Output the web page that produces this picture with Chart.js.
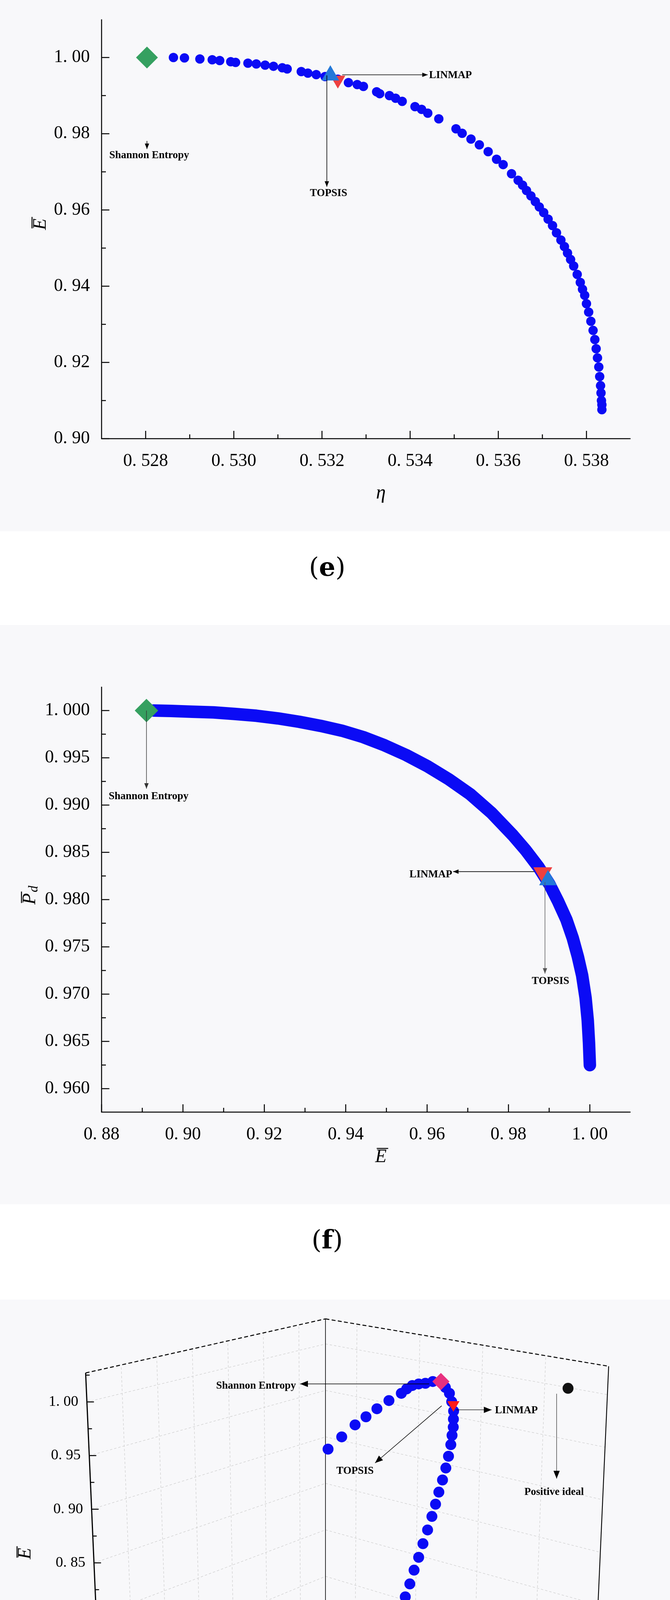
<!DOCTYPE html>
<html><head><meta charset="utf-8">
<script src="https://cdn.jsdelivr.net/npm/chart.js@4.4.1/dist/chart.umd.min.js"></script>
<style>
body{margin:0;background:#fff;width:1715px;height:4990px;position:relative;overflow:hidden;font-family:"Liberation Serif",serif}
.bg{position:absolute;left:0;width:1715px;background:#f8f8fa}
canvas{position:absolute;left:0}
.lab{position:absolute;width:1715px;left:0;text-align:center;font-size:66px;font-family:"DejaVu Serif","Liberation Serif",serif}
</style></head><body>
<div class="bg" style="top:0;height:1360px"></div>
<div class="bg" style="top:1600px;height:1483px"></div>
<div class="bg" style="top:3327px;height:1477px"></div>
<canvas id="c1" width="1715" height="1400" style="top:0"></canvas>
<canvas id="c2" width="1715" height="1700" style="top:1400px"></canvas>
<canvas id="c3" width="1715" height="1790" style="top:3200px"></canvas>
<div class="lab" style="top:1412px;left:-20px">(<b>e</b>)</div>
<div class="lab" style="top:3134px;left:-20px">(<b>f</b>)</div>
<div class="lab" style="top:4860px;left:-20px">(<b>g</b>)</div>
<script>
// ---------- panel (e): eta vs E ----------
const eEta=[0.52863,0.52888,0.52923,0.52951,0.52968,0.52993,0.53004,0.53032,0.53051,0.53071,0.53090,0.53110,0.53121,0.53153,0.53168,0.53187,0.53207,0.53236,0.53260,0.53280,0.53294,0.53324,0.53331,0.53353,0.53367,0.53382,0.53411,0.53426,0.53440,0.53465,0.53504,0.53518,0.53538,0.53557,0.53577,0.53596,0.53611,0.53630,0.53645,0.53655,0.53664,0.53674,0.53684,0.53693,0.53703,0.53713,0.53723,0.53732,0.53742,0.53750,0.53757,0.53764,0.53771,0.53779,0.53786,0.53791,0.53796,0.53800,0.53805,0.53810,0.53815,0.53819,0.53822,0.53825,0.53828,0.53830,0.53832,0.53833,0.53834,0.53835,0.53835];
const eE=[1.0000,0.9999,0.9996,0.9994,0.9992,0.9989,0.9987,0.9985,0.9983,0.9980,0.9977,0.9973,0.9970,0.9963,0.9959,0.9955,0.9950,0.9943,0.9934,0.9929,0.9924,0.9910,0.9905,0.9900,0.9893,0.9885,0.9871,0.9864,0.9854,0.9839,0.9813,0.9801,0.9786,0.9771,0.9753,0.9733,0.9719,0.9695,0.9678,0.9665,0.9651,0.9637,0.9622,0.9608,0.9593,0.9576,0.9559,0.9540,0.9521,0.9504,0.9487,0.9470,0.9453,0.9431,0.9410,0.9392,0.9376,0.9354,0.9332,0.9308,0.9284,0.9260,0.9236,0.9212,0.9188,0.9163,0.9139,0.9120,0.9100,0.9089,0.9076];
const eShannon=[0.52803,1.0000], eLinmap=[0.53236,0.9941], eTopsis=[0.53219,0.9953];
const eXTicks=[0.528,0.530,0.532,0.534,0.536,0.538], eXMinor=[0.529,0.531,0.533,0.535,0.537];
const eYTicks=[0.90,0.92,0.94,0.96,0.98,1.00], eYMinor=[0.91,0.93,0.95,0.97,0.99];
// ---------- panel (f): E vs Pd ----------
const fE=[0.89282,0.89702,0.90228,0.90753,0.91278,0.91804,0.92329,0.92855,0.93380,0.93906,0.94431,0.94956,0.95482,0.96007,0.96533,0.97058,0.97583,0.98109,0.98424,0.98739,0.99002,0.99212,0.99422,0.99580,0.99706,0.99811,0.99895,0.99948,0.99979,1.00000];
const fPd=[1.00000,0.99996,0.99988,0.99980,0.99964,0.99945,0.99917,0.99881,0.99838,0.99787,0.99719,0.99632,0.99530,0.99411,0.99273,0.99115,0.98917,0.98680,0.98522,0.98344,0.98166,0.97988,0.97790,0.97593,0.97395,0.97197,0.96960,0.96723,0.96486,0.96249];
const fShannon=[0.89103,1.0000], fLinmap=[0.98844,0.98284], fTopsis=[0.98970,0.98205];
const fXTicks=[0.88,0.90,0.92,0.94,0.96,0.98,1.00], fXMinor=[0.89,0.91,0.93,0.95,0.97,0.99];
const fYTicks=[0.960,0.965,0.970,0.975,0.980,0.985,0.990,0.995,1.000], fYMinor=[0.9625,0.9675,0.9725,0.9775,0.9825,0.9875,0.9925,0.9975];
// ---------- panel (g): 3-D (P, eta, E) ----------
const gE=[0.702,0.709,0.716,0.723,0.731,0.740,0.749,0.760,0.771,0.781,0.792,0.803,0.815,0.826,0.838,0.850,0.862,0.873,0.884,0.895,0.906,0.917,0.928,0.937,0.945,0.953,0.961,0.971,0.980,0.987,0.994,0.996,0.996,0.997,0.997,0.995,0.992,0.988,0.983,0.978,0.973,0.965,0.957];
const gEta=[0.5190,0.5200,0.5211,0.5222,0.5232,0.5243,0.5253,0.5268,0.5284,0.5297,0.5309,0.5322,0.5334,0.5347,0.5359,0.5372,0.5384,0.5394,0.5403,0.5413,0.5422,0.5429,0.5435,0.5438,0.5441,0.5441,0.5441,0.5435,0.5428,0.5416,0.5403,0.5380,0.5359,0.5340,0.5322,0.5306,0.5291,0.5256,0.5222,0.5191,0.5160,0.5122,0.5083];
const gP=gE.map(()=>0.91);
const gShannon=[0.91,0.5403,0.994], gLinmap=[0.91,0.5440,0.9675];
const gPositive=[0.976,0.547,1.00], gNegative=[0.8325,0.486,0.78];
const gPTicks=[0.84,0.88,0.92,0.96,1.00], gEtaTicks=[0.48,0.49,0.50,0.51,0.52,0.53,0.54], gETicks=[0.70,0.75,0.80,0.85,0.90,0.95,1.00];
const gPRange=[0.82,1.00], gEtaRange=[0.48,0.5475], gERange=[0.70,1.027];

const SERIF='"Liberation Serif", serif';
const fmt=(v,d)=>v.toFixed(d).replace('.', '. ');
function arrow(ctx,x1,y1,x2,y2,opt={}){
  const c=opt.color||'#000',w=opt.width||1.6,h=opt.head||14;
  ctx.save();ctx.strokeStyle=c;ctx.fillStyle=c;ctx.lineWidth=w;
  ctx.beginPath();ctx.moveTo(x1,y1);ctx.lineTo(x2,y2);ctx.stroke();
  const a=Math.atan2(y2-y1,x2-x1);
  ctx.beginPath();ctx.moveTo(x2,y2);
  ctx.lineTo(x2-h*Math.cos(a)+h*0.4*Math.sin(a),y2-h*Math.sin(a)-h*0.4*Math.cos(a));
  ctx.lineTo(x2-h*Math.cos(a)-h*0.4*Math.sin(a),y2-h*Math.sin(a)+h*0.4*Math.cos(a));
  ctx.closePath();ctx.fill();ctx.restore();
}
function txt(ctx,s,x,y,align,font){ctx.save();ctx.fillStyle='#000';ctx.font=font||('bold 27px '+SERIF);ctx.textAlign=align||'left';ctx.textBaseline='middle';ctx.fillText(s,x,y);ctx.restore();}
function barTitle(ctx,x,y,main,sub,rot){
  ctx.save();ctx.translate(x,y);if(rot)ctx.rotate(-Math.PI/2);
  ctx.font='italic 48px '+SERIF;ctx.fillStyle='#000';ctx.textAlign='center';ctx.textBaseline='middle';
  const w=ctx.measureText(main).width;
  ctx.fillText(main,0,0);
  ctx.lineWidth=2.5;ctx.beginPath();ctx.moveTo(-w/2+4,-22);ctx.lineTo(w/2+4,-22);ctx.stroke();
  if(sub){ctx.font='italic 34px '+SERIF;ctx.textAlign='left';ctx.fillText(sub,w/2+2,10);}
  ctx.restore();
}
function ticksPlugin(xMaj,xMin,yMaj,yMin,extra){
  return {id:'tk',afterDraw(ch){
    const ctx=ch.ctx,xs=ch.scales.x,ys=ch.scales.y,a=ch.chartArea;
    ctx.save();ctx.strokeStyle='#000';ctx.lineWidth=2.5;
    ctx.beginPath();ctx.moveTo(a.left,a.top);ctx.lineTo(a.left,a.bottom);ctx.lineTo(a.right,a.bottom);ctx.stroke();
    const L=(v,l)=>{const p=xs.getPixelForValue(v);ctx.beginPath();ctx.moveTo(p,a.bottom);ctx.lineTo(p,a.bottom-l);ctx.stroke();};
    const M=(v,l)=>{const p=ys.getPixelForValue(v);ctx.beginPath();ctx.moveTo(a.left,p);ctx.lineTo(a.left+l,p);ctx.stroke();};
    xMaj.forEach(v=>L(v,20));xMin.forEach(v=>L(v,11));yMaj.forEach(v=>M(v,20));yMin.forEach(v=>M(v,11));
    ctx.restore();
    extra(ch,ctx,xs,ys);
  }};
}
function axesOpts(xr,yr,xT,yT,xd,yd,left,bottomH){
  return {
    x:{type:'linear',min:xr[0],max:xr[1],grid:{display:false},border:{display:false},
      afterBuildTicks:s=>{s.ticks=xT.map(v=>({value:v}));},afterFit:s=>{s.height=bottomH;},
      ticks:{padding:22,maxRotation:0,autoSkip:false,color:'#000',font:{family:SERIF,size:46},callback:v=>fmt(v,xd)}},
    y:{type:'linear',min:yr[0],max:yr[1],grid:{display:false},border:{display:false},
      afterBuildTicks:s=>{s.ticks=yT.map(v=>({value:v}));},afterFit:s=>{s.width=left;},
      ticks:{padding:22,autoSkip:false,color:'#000',font:{family:SERIF,size:46},callback:v=>fmt(v,yd)}}
  };
}
const base={responsive:false,animation:false,devicePixelRatio:1,plugins:{legend:{display:false},tooltip:{enabled:false}}};

// (e)
new Chart(document.getElementById('c1'),{type:'scatter',
  data:{datasets:[
    {order:10,data:eEta.map((v,i)=>({x:v,y:eE[i]})),backgroundColor:'#0b0bf5',borderWidth:0,pointRadius:12},
    {order:3,data:[{x:eShannon[0],y:eShannon[1]}],pointStyle:'rectRot',backgroundColor:'#35a060',borderWidth:0,pointRadius:28},
    {order:2,data:[{x:eLinmap[0],y:eLinmap[1]}],pointStyle:'triangle',rotation:180,backgroundColor:'#ee4040',borderWidth:0,pointRadius:22},
    {order:1,data:[{x:eTopsis[0],y:eTopsis[1]}],pointStyle:'triangle',backgroundColor:'#2378d8',borderWidth:0,pointRadius:26}]},
  options:{...base,layout:{padding:{left:0,top:34,right:101,bottom:0}},
    scales:axesOpts([0.527,0.539],[0.90,1.01],eXTicks,eYTicks,3,2,260,277)},
  plugins:[ticksPlugin(eXTicks,eXMinor,eYTicks,eYMinor,(ch,ctx,xs,ys)=>{
    const X=v=>xs.getPixelForValue(v),Y=v=>ys.getPixelForValue(v);
    arrow(ctx,X(0.53246),Y(0.99546),X(0.53440),Y(0.99546));
    txt(ctx,'LINMAP',X(0.53443),Y(0.99546)+2,'left');
    arrow(ctx,X(0.53211),Y(0.9953),X(0.53211),Y(0.9661));
    txt(ctx,'TOPSIS',X(0.53215),Y(0.9644),'center');
    arrow(ctx,X(0.52803),Y(0.9781),X(0.52803),Y(0.9760));
    txt(ctx,'Shannon Entropy',X(0.52808),Y(0.9743),'center');
    barTitle(ctx,104,574,'E',null,true);
    ctx.save();ctx.font='italic 50px '+SERIF;ctx.textAlign='center';ctx.textBaseline='middle';ctx.fillText('η',975,1263);ctx.restore();
  })]});

// (f)
new Chart(document.getElementById('c2'),{type:'scatter',
  data:{datasets:[
    {order:10,data:fE.map((v,i)=>({x:v,y:fPd[i]})),showLine:true,borderColor:'#0b0bf5',borderWidth:32,borderCapStyle:'round',borderJoinStyle:'round',backgroundColor:'#0b0bf5',pointRadius:0},
    {order:3,data:[{x:fShannon[0],y:fShannon[1]}],pointStyle:'rectRot',backgroundColor:'#35a060',borderWidth:0,pointRadius:30},
    {order:2,data:[{x:fLinmap[0],y:fLinmap[1]}],pointStyle:'triangle',rotation:180,backgroundColor:'#ee4040',borderWidth:0,pointRadius:28},
    {order:1,data:[{x:fTopsis[0],y:fTopsis[1]}],pointStyle:'triangle',backgroundColor:'#2378d8',borderWidth:0,pointRadius:26}]},
  options:{...base,layout:{padding:{left:0,top:358,right:101,bottom:0}},
    scales:axesOpts([0.88,1.01],[0.95752,1.00252],fXTicks,fYTicks,2,3,260,253)},
  plugins:[ticksPlugin(fXTicks,fXMinor,fYTicks,fYMinor,(ch,ctx,xs,ys)=>{
    const X=v=>xs.getPixelForValue(v),Y=v=>ys.getPixelForValue(v);
    arrow(ctx,X(0.89103),Y(1.000),X(0.89103),Y(0.99174),{color:'#333',width:1.4});
    txt(ctx,'Shannon Entropy',X(0.89156),Y(0.99091),'center');
    arrow(ctx,X(0.98634),Y(0.98296),X(0.96638),Y(0.98296));
    txt(ctx,'LINMAP',X(0.96617),Y(0.98265),'right');
    arrow(ctx,X(0.98897),Y(0.98186),X(0.98897),Y(0.97217),{color:'#555',width:1.4});
    txt(ctx,'TOPSIS',X(0.99033),Y(0.97138),'center');
    barTitle(ctx,975,1562,'E',null,false);
    barTitle(ctx,77,901,'P','d',true);
  })]});

// (g) simple projection of 3-D values onto the page
function proj(P,eta,E){
  const du=(1-P)/0.18-0.5, dv=(eta-0.48)/0.0675-0.5, w=(E-0.70)/0.327;
  const x=813-643*du+539*dv+37*w*(dv-du);
  const y=1068-195*du-226*dv-w*(777-89*du-105*dv);
  return {x:x*1.094,y:3150+y*1.173};
}
const Z=(x,y)=>[x*1.094,3150+y*1.173];
new Chart(document.getElementById('c3'),{type:'scatter',
  data:{datasets:[
    {order:10,data:gP.map((p,i)=>proj(p,gEta[i],gE[i])),backgroundColor:'#0b0bf5',borderWidth:0,pointRadius:14},
    {order:2,data:[proj(...gShannon)],pointStyle:'rectRot',backgroundColor:'#e8307f',borderWidth:0,pointRadius:22},
    {order:1,data:[proj(...gLinmap)],pointStyle:'triangle',rotation:180,backgroundColor:'#ff1a1a',borderWidth:0,pointRadius:18},
    {order:3,data:[proj(...gPositive),proj(...gNegative)],backgroundColor:'#111',borderWidth:0,pointRadius:14}]},
  options:{...base,layout:{padding:0},
    scales:{x:{type:'linear',min:0,max:1715,display:false},y:{type:'linear',min:3200,max:4990,reverse:true,display:false}}},
  plugins:[{id:'box',beforeDatasetsDraw(ch){
    const ctx=ch.ctx,xs=ch.scales.x,ys=ch.scales.y;
    const S=p=>[xs.getPixelForValue(p.x),ys.getPixelForValue(p.y)];
    const line=(a,b,opt)=>{ctx.save();ctx.strokeStyle=opt.c||'#000';ctx.lineWidth=opt.w||2;ctx.setLineDash(opt.d||[]);
      const A=S(a),B=S(b);ctx.beginPath();ctx.moveTo(A[0],A[1]);ctx.lineTo(B[0],B[1]);ctx.stroke();ctx.restore();};
    const [p0,p1]=gPRange,[n0,n1]=gEtaRange,[e0,e1]=gERange;
    const grid={c:'#cfcfcf',w:1.3,d:[6,5]};
    const eg=[0.75,0.80,0.85,0.90,0.95,1.00];
    gEtaTicks.slice(1).forEach(n=>line(proj(p0,n,e0),proj(p0,n,e1),grid));
    eg.forEach(e=>line(proj(p0,n0,e),proj(p0,n1,e),grid));
    gPTicks.forEach(p=>line(proj(p,n1,e0),proj(p,n1,e1),grid));
    eg.forEach(e=>line(proj(p0,n1,e),proj(p1,n1,e),grid));
    gPTicks.forEach(p=>line(proj(p,n0,e0),proj(p,n1,e0),grid));
    gEtaTicks.slice(1).forEach(n=>line(proj(p0,n,e0),proj(p1,n,e0),grid));
    line(proj(p0,n0,e0),proj(p0,n1,e0),{w:2,d:[3,4]});
    line(proj(p0,n1,e0),proj(p1,n1,e0),{w:2,d:[3,4]});
    line(proj(p0,n0,e1),proj(p0,n1,e1),{w:2.5,d:[10,6]});
    line(proj(p0,n1,e1),proj(p1,n1,e1),{w:2.5,d:[10,6]});
    line(proj(p0,n1,e0),proj(p0,n1,e1),{w:1.6});
    line(proj(p1,n1,e0),proj(p1,n1,e1),{w:2.2});
    line(proj(p0,n0,e0),proj(p0,n0,e1),{w:3});
    line(proj(p1,n0,e0),proj(p0,n0,e0),{w:3});
    line(proj(p1,n0,e0),proj(p1,n1,e0),{w:3});
    ctx.save();ctx.fillStyle='#000';ctx.font='38px '+SERIF;ctx.textBaseline='middle';ctx.lineWidth=2.5;
    gETicks.forEach(e=>{const A=S(proj(p0,n0,e));ctx.beginPath();ctx.moveTo(A[0],A[1]);ctx.lineTo(A[0]+18,A[1]);ctx.stroke();
      ctx.textAlign='right';ctx.fillText(fmt(e,2),A[0]-22,A[1]);});
    [0.725,0.775,0.825,0.875,0.925,0.975,1.025].forEach(e=>{const A=S(proj(p0,n0,e));ctx.beginPath();ctx.moveTo(A[0],A[1]);ctx.lineTo(A[0]+10,A[1]);ctx.stroke();});
    gPTicks.forEach(p=>{const A=S(proj(p,n0,e0));ctx.beginPath();ctx.moveTo(A[0],A[1]);ctx.lineTo(A[0],A[1]-20);ctx.stroke();
      ctx.textAlign='center';ctx.fillText(fmt(p,2),A[0]+8,A[1]+55);});
    [0.86,0.90,0.94,0.98].forEach(p=>{const A=S(proj(p,n0,e0));ctx.beginPath();ctx.moveTo(A[0],A[1]);ctx.lineTo(A[0],A[1]-11);ctx.stroke();});
    gEtaTicks.forEach(n=>{const A=S(proj(p1,n,e0));ctx.beginPath();ctx.moveTo(A[0],A[1]);ctx.lineTo(A[0],A[1]-20);ctx.stroke();
      ctx.textAlign='left';ctx.fillText(fmt(n,2),A[0]+8,A[1]+28);});
    [0.485,0.495,0.505,0.515,0.525,0.535,0.545].forEach(n=>{const A=S(proj(p1,n,e0));ctx.beginPath();ctx.moveTo(A[0],A[1]);ctx.lineTo(A[0],A[1]-11);ctx.stroke();});
    ctx.restore();
    barTitle(ctx,Z(60,705)[0],Z(60,705)[1]-3200,'E',null,true);
    barTitle(ctx,Z(462,1270)[0],Z(462,1270)[1]-3200,'P',null,false);
    ctx.save();ctx.font='italic 50px '+SERIF;ctx.textAlign='center';ctx.textBaseline='middle';const q=Z(1230,1255);ctx.fillText('η',q[0],q[1]-3200);ctx.restore();
  },afterDatasetsDraw(ch){
    const ctx=ch.ctx,xs=ch.scales.x,ys=ch.scales.y;
    const P=(x,y)=>{const z=Z(x,y);return [xs.getPixelForValue(z[0]),ys.getPixelForValue(z[1])];};
    const ar=(a,b,o)=>arrow(ctx,a[0],a[1],b[0],b[1],o||{width:1.4,head:20});
    ar(P(1010,323),P(700,323));
    txt(ctx,'Shannon Entropy',...P(690,328),'right');
    ar(P(1075,381),P(1160,381));
    txt(ctx,'LINMAP',...P(1168,383),'left');
    ar(P(1040,372),P(880,500));
    txt(ctx,'TOPSIS',...P(832,518),'center');
    ar(P(1316,345),P(1316,535),{width:1,head:20,color:'#000'});
    txt(ctx,'Positive ideal',...P(1310,565),'center');
    ar(P(512,884),P(532,884),{width:1,head:20});
    txt(ctx,'Negative ideal',...P(534,884),'left');
  }}]});
</script></body></html>
